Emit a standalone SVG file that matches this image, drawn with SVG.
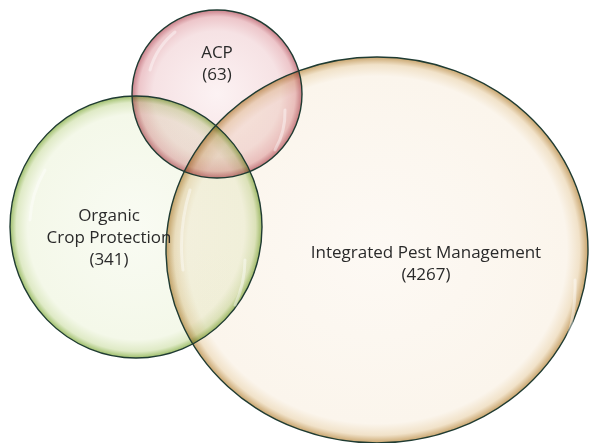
<svg xmlns="http://www.w3.org/2000/svg" width="590" height="443" viewBox="0 0 590 443">
<defs>
<radialGradient id="gIPM" cx="0.5" cy="0.5" r="0.5">
<stop offset="0" stop-color="#fdf9f4"/>
<stop offset="0.9" stop-color="#fbf5ec"/>
<stop offset="0.96" stop-color="#f1e2c9"/>
<stop offset="1" stop-color="#c9a56e"/>
</radialGradient>
<radialGradient id="gOrg" cx="0.5" cy="0.5" r="0.5">
<stop offset="0" stop-color="#f9fbf3"/>
<stop offset="0.86" stop-color="#f4f8e9"/>
<stop offset="0.95" stop-color="#dfeac6"/>
<stop offset="1" stop-color="#9fbf6c"/>
</radialGradient>
<radialGradient id="gACP" cx="0.5" cy="0.5" r="0.5">
<stop offset="0" stop-color="#fcf2f3"/>
<stop offset="0.75" stop-color="#f6e2e4"/>
<stop offset="0.92" stop-color="#edc6ca"/>
<stop offset="1" stop-color="#c98089"/>
</radialGradient>
<style>
.fill{mix-blend-mode:multiply}
.edge{fill:none;stroke:#1f3b32;stroke-width:1.4}
.hl{fill:none;stroke:#ffffff;stroke-opacity:0.7;stroke-width:3;stroke-linecap:round}
text{font-family:"Open Sans","Liberation Sans",Arial,sans-serif;font-size:17px;fill:#2a2a2a;text-anchor:middle}
</style>
</defs>
<rect width="590" height="443" fill="#ffffff"/>
<g id="ipm">
<ellipse class="fill" cx="377" cy="250" rx="211" ry="193" fill="url(#gIPM)"/>
</g>
<g id="organic">
<ellipse class="fill" cx="136" cy="227" rx="126" ry="131" fill="url(#gOrg)"/>
</g>
<g id="acp">
<ellipse class="fill" cx="217" cy="94" rx="85" ry="84" fill="url(#gACP)"/>
</g>
<g id="outlines">
<ellipse class="edge" cx="377" cy="250" rx="211" ry="193"/>
<ellipse class="edge" cx="136" cy="227" rx="126" ry="131"/>
<ellipse class="edge" cx="217" cy="94" rx="85" ry="84"/>
</g>
<g id="highlights">
<path class="hl" d="M150,70 A75,75 0 0 1 175,32" opacity="0.6"/>
<path class="hl" d="M285,110 A75,75 0 0 1 275,150" opacity="0.6"/>
<path class="hl" d="M30,220 A110,110 0 0 1 45,170" opacity="0.6"/>
<path class="hl" d="M245,260 A110,110 0 0 1 235,305" opacity="0.6"/>
<path class="hl" d="M183,270 A190,190 0 0 1 190,190" opacity="0.6"/>
<path class="hl" d="M575,280 A190,190 0 0 1 560,360" opacity="0.6"/>
</g>
<g id="connectors"/>
<g id="labels">
<text x="217" y="58">ACP</text>
<text x="217" y="80">(63)</text>
<text x="109" y="221">Organic</text>
<text x="109" y="243">Crop Protection</text>
<text x="109" y="265">(341)</text>
<text x="426" y="258">Integrated Pest Management</text>
<text x="426" y="280">(4267)</text>
</g>
</svg>
